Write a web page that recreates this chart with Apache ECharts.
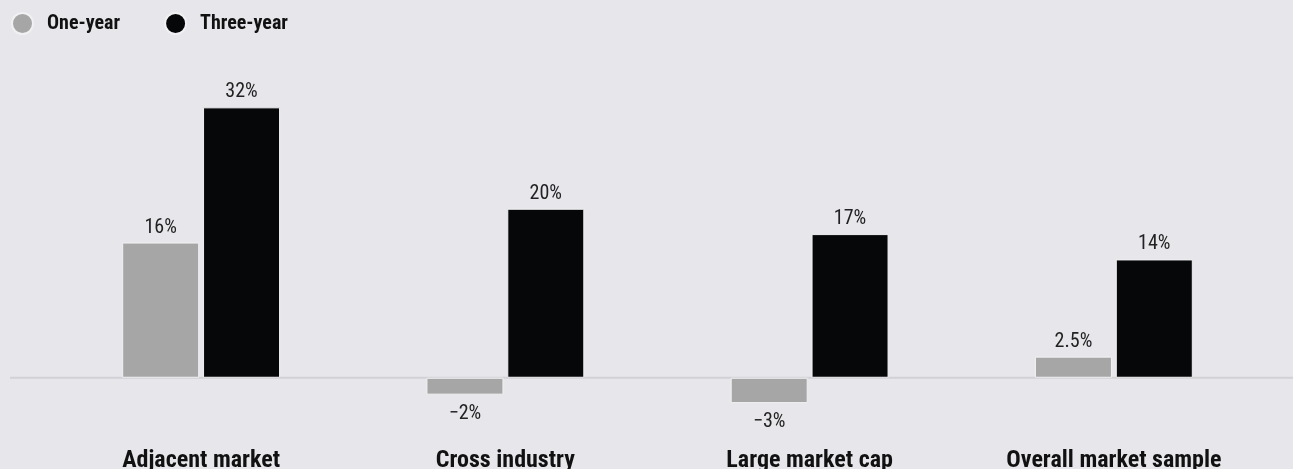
<!DOCTYPE html>
<html>
<head>
<meta charset="utf-8">
<script src="https://cdn.jsdelivr.net/npm/echarts@6/dist/echarts.min.js"></script>
<style>
  html, body { margin: 0; padding: 0; background: #e7e6eb; }
  #chart { width: 1293px; height: 469px; }
</style>
</head>
<body>
<div id="chart"></div>
<script>
// Return comparison by deal type, percent
const categories = ['Adjacent market', 'Cross industry', 'Large market cap', 'Overall market sample'];
const oneYear = [16, -2, -3, 2.5];
const threeYear = [32, 20, 17, 14];
const seriesNames = ['One-year', 'Three-year'];

const BG = '#e7e6eb';
const GRAY = '#a6a6a6';
const BLACK = '#050708';
const CONDENSED = '"Roboto Condensed", "Open Sans Condensed", sans-serif';

function fmt(v) {
  return (v < 0 ? '\u2212' + Math.abs(v) : String(v)) + '%';
}

// Negative values get their label under the bar
function withLabels(values) {
  return values.map(v => ({
    value: v,
    label: v < 0 ? { position: 'bottom', distance: 9 } : { position: 'top', distance: 5 }
  }));
}

const valueLabel = {
  show: true,
  fontFamily: CONDENSED,
  fontSize: 20,
  color: '#222',
  formatter: p => fmt(p.value)
};

const chart = echarts.init(document.getElementById('chart'), null, { renderer: 'canvas' });

chart.setOption({
  backgroundColor: BG,
  animation: false,
  legend: {
    left: 6,
    top: 7,
    icon: 'circle',
    itemWidth: 21,
    itemHeight: 21,
    itemGap: 44,
    textStyle: {
      fontFamily: CONDENSED,
      fontWeight: 'bold',
      fontSize: 20,
      color: '#111',
      padding: [0, 0, 0, 9]
    },
    data: seriesNames
  },
  grid: { left: 49, right: 27, top: 82, height: 338, outerBoundsMode: 'none' },
  xAxis: {
    type: 'category',
    data: categories,
    axisLine: { show: false },
    axisTick: { show: false },
    axisLabel: {
      interval: 0,
      margin: 29,
      fontFamily: CONDENSED,
      fontWeight: 'bold',
      fontSize: 24,
      color: '#111'
    }
  },
  yAxis: {
    type: 'value',
    min: -5,
    max: 35,
    show: false,
    splitLine: { show: false }
  },
  series: [
    {
      name: seriesNames[0],
      type: 'bar',
      barWidth: 77,
      barGap: '5%',
      itemStyle: { color: GRAY, borderColor: '#f1f1f3', borderWidth: 1 },
      label: valueLabel,
      data: withLabels(oneYear),
      z: 3
    },
    {
      name: seriesNames[1],
      type: 'bar',
      barWidth: 77,
      barGap: '5%',
      itemStyle: { color: BLACK, borderColor: '#f1f1f3', borderWidth: 1 },
      label: valueLabel,
      data: withLabels(threeYear),
      z: 3
    }
  ]
});

// Zero baseline running across the full width of the page
const zeroY = chart.convertToPixel({ yAxisIndex: 0 }, 0);
chart.setOption({
  graphic: [{
    type: 'line',
    z: 1,
    shape: { x1: 10, y1: zeroY, x2: 1293, y2: zeroY },
    style: { stroke: '#d2d2d6', lineWidth: 2 }
  }]
});
</script>
</body>
</html>
